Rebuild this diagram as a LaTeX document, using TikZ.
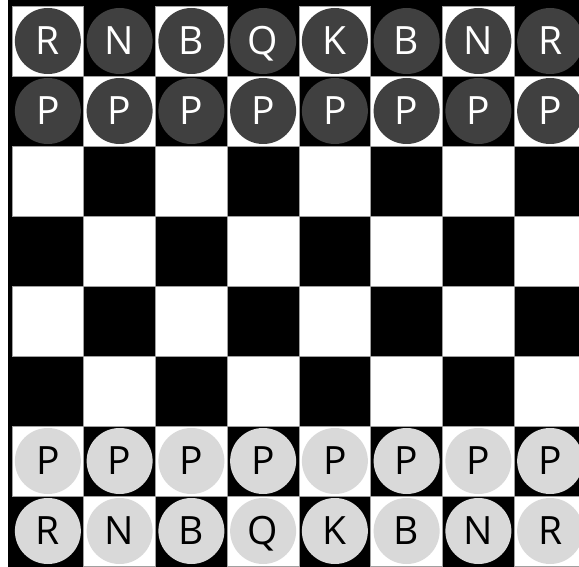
\documentclass[tikz,border=0pt]{standalone}
\usepackage{fontspec}
\setmainfont{Open Sans}
\definecolor{darkpiece}{HTML}{404040}
\definecolor{lightpiece}{HTML}{D9D9D9}
\definecolor{sqedge}{HTML}{A0A0A0}
\begin{document}
\begin{tikzpicture}[x=1pt,y=-1pt,
  piece/.style={circle, minimum size=66pt, inner sep=0pt,
    font=\fontsize{39}{39}\selectfont, text height=27.9pt, text depth=0pt},
  darkpc/.style={piece, fill=darkpiece, text=white},
  lightpc/.style={piece, fill=lightpiece, text=black},
  whitesq/.style={fill=white, draw=sqedge, line width=0.8pt}]
\useasboundingbox (0,0) rectangle (579,567);
\clip (0,0) rectangle (579,567);
\fill[black] (8,0) rectangle (600,590);
\foreach \r in {1,...,8} {
  \foreach \c in {1,...,8} {
    \pgfmathtruncatemacro{\sqparity}{mod(\r+\c,2)}
    \ifnum\sqparity=0
      \draw[whitesq] ({12+71.75*(\c-1)},{6+70*(\r-1)}) rectangle ++(71.75,70);
    \fi
  }
}
\foreach \p [count=\c] in {R,N,B,Q,K,B,N,R} {
  \node[darkpc] (d8\c) at ({12+71.75*(\c-0.5)},41) {\p};
  \node[darkpc] (d7\c) at ({12+71.75*(\c-0.5)},111) {P};
  \node[lightpc] (l2\c) at ({12+71.75*(\c-0.5)},461) {P};
  \node[lightpc] (l1\c) at ({12+71.75*(\c-0.5)},531) {\p};
}
\end{tikzpicture}
\end{document}
